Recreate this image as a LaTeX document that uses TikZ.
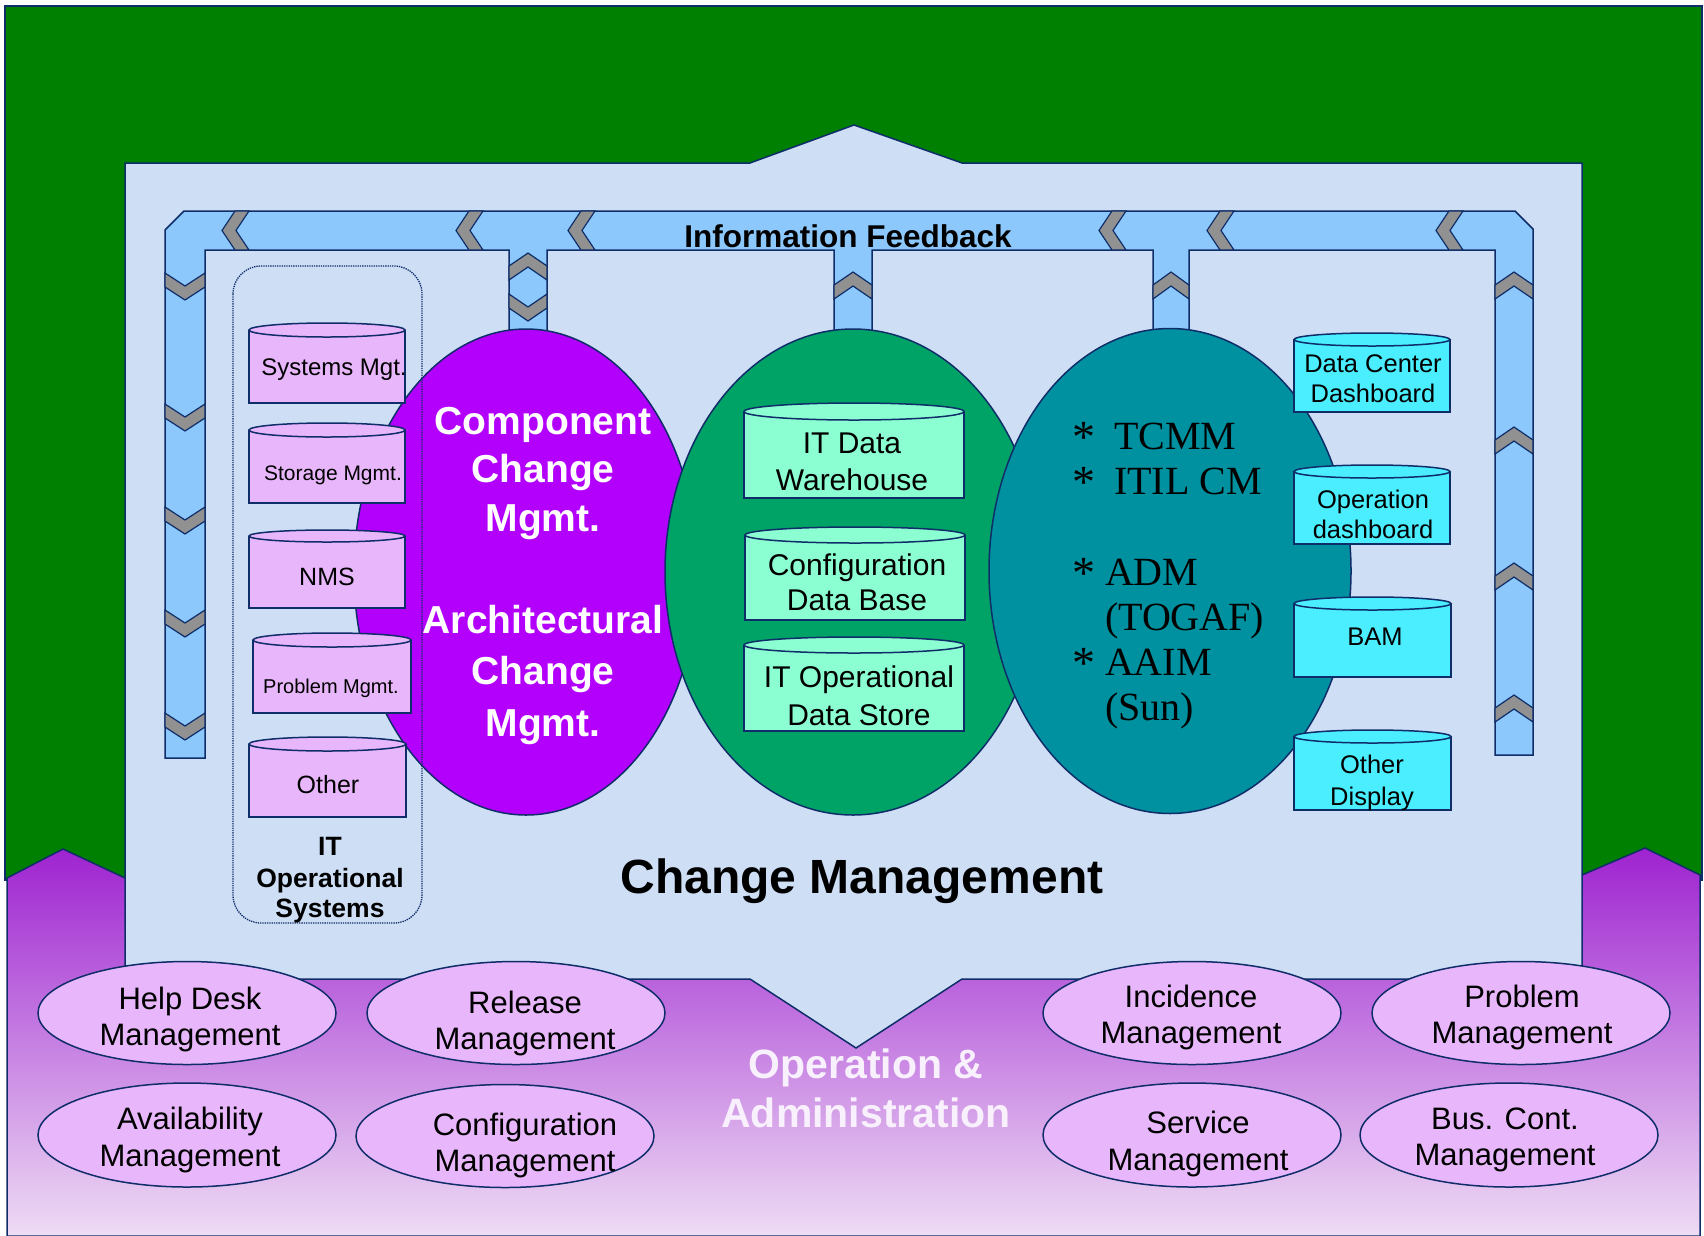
\documentclass[tikz,border=0pt]{standalone}
\usepackage{fontspec}
\setmainfont{Liberation Sans}
\newfontfamily\seriff{Liberation Serif}
\usetikzlibrary{shapes.geometric}
\definecolor{greenbg}{RGB}{0,128,0}
\definecolor{edgecol}{RGB}{15,45,105}
\definecolor{lightbg}{RGB}{205,222,245}
\definecolor{pipecol}{RGB}{140,200,252}
\definecolor{chevcol}{RGB}{145,145,145}
\definecolor{purpE}{RGB}{178,0,252}
\definecolor{greenE}{RGB}{0,163,102}
\definecolor{tealE}{RGB}{0,145,160}
\definecolor{pinkC}{RGB}{232,182,250}
\definecolor{mintC}{RGB}{140,255,210}
\definecolor{cyanC}{RGB}{75,238,255}
\definecolor{purpTop}{RGB}{158,35,208}
\definecolor{purpBot}{RGB}{238,220,244}
\definecolor{palefg}{RGB}{248,240,252}
\tikzset{
  fsz/.style={font=\fontsize{#1}{#1}\selectfont},
  fszb/.style={font=\fontsize{#1}{#1}\selectfont\bfseries},
  lbl/.style={anchor=base, inner sep=0pt, outer sep=0pt},
  tt/.style={anchor=base west, inner sep=0pt, outer sep=0pt, font=\seriff\fontsize{40}{40}\selectfont},
  star/.style={anchor=base west, inner sep=0pt, outer sep=0pt, font=\seriff\fontsize{46}{46}\selectfont},
  border/.style={draw=edgecol, line width=1.5pt},
  chevstyle/.style={fill=chevcol, draw=edgecol, line width=1.2pt, line join=miter},
  bigell/.style={ellipse, border, inner sep=0pt},
  oval/.style={ellipse, fill=pinkC, border, minimum width=298, minimum height=103, inner sep=0pt},
}
\newcommand{\dbcyl}[7]{%
  \fill[#7] (#2,#3+#6) rectangle (#4,#5);
  \draw[border] (#2,#3+#6) -- (#2,#5) -- (#4,#5) -- (#4,#3+#6);
  \filldraw[fill=#7, border] ({(#2+#4)/2},{#3+#6}) ellipse [x radius={(#4-#2)/2}, y radius=#6];
  \coordinate (#1) at ({(#2+#4)/2},{(#3+#5)/2});
}
\newcommand{\chevL}[1]{\filldraw[chevstyle] (#1+13,211) -- (#1,230.5) -- (#1+13,250) -- (#1+27,250) -- (#1+14,230.5) -- (#1+27,211) -- cycle;}
\newcommand{\chevD}[3]{\filldraw[chevstyle] (#1,#3) -- ({(#1+#2)/2},#3+13) -- (#2,#3) -- (#2,#3+14) -- ({(#1+#2)/2},#3+27) -- (#1,#3+14) -- cycle;}
\newcommand{\chevU}[3]{\filldraw[chevstyle] (#1,#3+13) -- ({(#1+#2)/2},#3) -- (#2,#3+13) -- (#2,#3+27) -- ({(#1+#2)/2},#3+14) -- (#1,#3+27) -- cycle;}
\begin{document}
\begin{tikzpicture}[x=1pt,y=-1pt]
\useasboundingbox (0,0) rectangle (1704,1235);
\fill[white] (0,0) rectangle (1704,1235);
% green background
\filldraw[fill=greenbg, border] (5,6) rectangle (1702,880);
% purple bottom band
\shadedraw[top color=purpTop, bottom color=purpBot, draw=edgecol, line width=1.5pt]
  (7,878) -- (63,849) -- (125,878) -- (1582,875) -- (1645,848) -- (1700,875) -- (1700,1236) -- (7,1236) -- cycle;
% light change management panel
\filldraw[fill=lightbg, border]
  (125,163) -- (750,163) -- (854,125) -- (962,163) -- (1582,163) -- (1582,979) -- (962,979) -- (856,1048) -- (750,979) -- (125,979) -- cycle;
% information feedback pipe
\filldraw[fill=pipecol, border, line join=miter]
  (184,211) -- (1515,211) -- (1533,229) -- (1533,755) -- (1495,755) -- (1495,250) -- (1189,250) -- (1189,345) -- (1153,345) -- (1153,250)
  -- (872,250) -- (872,345) -- (834,345) -- (834,250) -- (547,250) -- (547,345) -- (509,345) -- (509,250) -- (205,250) -- (205,758) -- (165,758) -- (165,230) -- cycle;
\chevL{222}\chevL{456}\chevL{568}\chevL{1099}\chevL{1207}\chevL{1436}
\chevD{165}{205}{273}\chevD{165}{205}{404}\chevD{165}{205}{507}\chevD{165}{205}{610}\chevD{165}{205}{713}
\chevU{1495}{1533}{272}\chevU{1495}{1533}{427}\chevU{1495}{1533}{563}\chevU{1495}{1533}{695}
\chevU{509}{547}{253}\chevD{509}{547}{294}
\chevU{834}{872}{272}
\chevU{1153}{1189}{272}
\node[lbl, fszb=31.5] (infofb) at (848,247) {Information Feedback};
% three big ellipses
\node[bigell, fill=purpE, minimum width=344, minimum height=486] (ccm) at (526,572) {};
\node[bigell, fill=greenE, minimum width=376, minimum height=486] (repo) at (853,572) {};
\node[bigell, fill=tealE, minimum width=362, minimum height=485] (fw) at (1170,571) {};
% IT operational systems group
\draw[edgecol, densely dotted, line width=1.3pt, rounded corners=28] (233,266) rectangle (422,923);
\dbcyl{sys}{249}{323}{405}{403}{7}{pinkC}
\dbcyl{sto}{249}{423}{405}{503}{7}{pinkC}
\dbcyl{nms}{249}{530}{405}{608}{6}{pinkC}
\dbcyl{prb}{253}{633}{411}{713}{7}{pinkC}
\dbcyl{oth}{249}{737}{406}{817}{7}{pinkC}
\node[lbl, fsz=24] (sysT) at (334,375) {Systems Mgt.};
\node[lbl, fsz=21] (stoT) at (333,480) {Storage Mgmt.};
\node[lbl, fsz=25] (nmsT) at (327,585) {NMS};
\node[lbl, fsz=20] (prbT) at (331,693) {Problem Mgmt.};
\node[lbl, fsz=25] (othT) at (328,793) {Other};
\node[lbl, fszb=26.5] (itos1) at (330,855) {IT};
\node[lbl, fszb=26.5] (itos2) at (330,887) {Operational};
\node[lbl, fszb=26.5] (itos3) at (330,917) {Systems};
% component / architectural change text
\node[lbl, fszb=39, text=white] (cc1) at (543,434) {Component};
\node[lbl, fszb=39, text=white] (cc2) at (543,482) {Change};
\node[lbl, fszb=39, text=white] (cc3) at (543,531) {Mgmt.};
\node[lbl, fszb=39, text=white] (ac1) at (543,633) {Architectural};
\node[lbl, fszb=39, text=white] (ac2) at (543,684) {Change};
\node[lbl, fszb=39, text=white] (ac3) at (543,736) {Mgmt.};
% data stores
\dbcyl{dw}{744}{403}{964}{498}{8.5}{mintC}
\dbcyl{cdb}{745}{527}{965}{620}{8}{mintC}
\dbcyl{ods}{744}{637}{964}{731}{8}{mintC}
\node[lbl, fsz=30] (dw1) at (852,453) {IT Data};
\node[lbl, fsz=30] (dw2) at (852,490) {Warehouse};
\node[lbl, fsz=30] (cdb1) at (857,575) {Configuration};
\node[lbl, fsz=30] (cdb2) at (857,610) {Data Base};
\node[lbl, fsz=30] (ods1) at (859,687) {IT Operational};
\node[lbl, fsz=30] (ods2) at (859,725) {Data Store};
% frameworks text
\node[star] (s1) at (1072,452) {*}; \node[tt] (t1) at (1114,449) {TCMM};
\node[star] (s2) at (1072,497) {*}; \node[tt] (t2) at (1114,494) {ITIL CM};
\node[star] (s3) at (1072,588) {*}; \node[tt] (t3) at (1105,585) {ADM};
\node[tt] (t4) at (1105,630) {(TOGAF)};
\node[star] (s5) at (1072,678) {*}; \node[tt] (t5) at (1105,675) {AAIM};
\node[tt] (t6) at (1105,720) {(Sun)};
% displays
\dbcyl{dcd}{1294}{333}{1450}{412}{6.5}{cyanC}
\dbcyl{opd}{1294}{465}{1450}{544}{6.5}{cyanC}
\dbcyl{bam}{1294}{597}{1451}{677}{6.5}{cyanC}
\dbcyl{odp}{1294}{730}{1451}{810}{6.5}{cyanC}
\node[lbl, fsz=25.5] (dcd1) at (1373,372) {Data Center};
\node[lbl, fsz=25.5] (dcd2) at (1373,402) {Dashboard};
\node[lbl, fsz=25.5] (opd1) at (1373,508) {Operation};
\node[lbl, fsz=25.5] (opd2) at (1373,538) {dashboard};
\node[lbl, fsz=25.5] (bamT) at (1375,645) {BAM};
\node[lbl, fsz=25.5] (odp1) at (1372,773) {Other};
\node[lbl, fsz=25.5] (odp2) at (1372,805) {Display};
\node[lbl, fszb=48] (chm) at (862,893) {Change Management};
% operation & administration
\node[lbl, fszb=41, text=palefg] (oa1) at (866,1078) {Operation \&};
\node[lbl, fszb=41, text=palefg] (oa2) at (866,1127) {Administration};
\node[oval] (hd) at (187,1013) {};
\node[oval] (rel) at (516,1013) {};
\node[oval, minimum height=104] (av) at (187,1135) {};
\node[oval] (cfg) at (505,1136) {};
\node[oval] (inc) at (1192,1013) {};
\node[oval] (prob) at (1521,1013) {};
\node[oval, minimum height=104] (svc) at (1192,1135) {};
\node[oval, minimum height=104] (bus) at (1509,1135) {};
\node[lbl, fsz=31] (hd1) at (190,1009) {Help Desk};
\node[lbl, fsz=31] (hd2) at (190,1045) {Management};
\node[lbl, fsz=31] (rel1) at (525,1013) {Release};
\node[lbl, fsz=31] (rel2) at (525,1049) {Management};
\node[lbl, fsz=31] (av1) at (190,1129) {Availability};
\node[lbl, fsz=31] (av2) at (190,1166) {Management};
\node[lbl, fsz=31] (cfg1) at (525,1135) {Configuration};
\node[lbl, fsz=31] (cfg2) at (525,1171) {Management};
\node[lbl, fsz=31] (inc1) at (1191,1007) {Incidence};
\node[lbl, fsz=31] (inc2) at (1191,1043) {Management};
\node[lbl, fsz=31] (prob1) at (1522,1007) {Problem};
\node[lbl, fsz=31] (prob2) at (1522,1043) {Management};
\node[lbl, fsz=31] (svc1) at (1198,1133) {Service};
\node[lbl, fsz=31] (svc2) at (1198,1170) {Management};
\node[lbl, fsz=31] (bus1) at (1505,1129) {Bus. Cont.};
\node[lbl, fsz=31] (bus2) at (1505,1165) {Management};
\end{tikzpicture}
\end{document}
